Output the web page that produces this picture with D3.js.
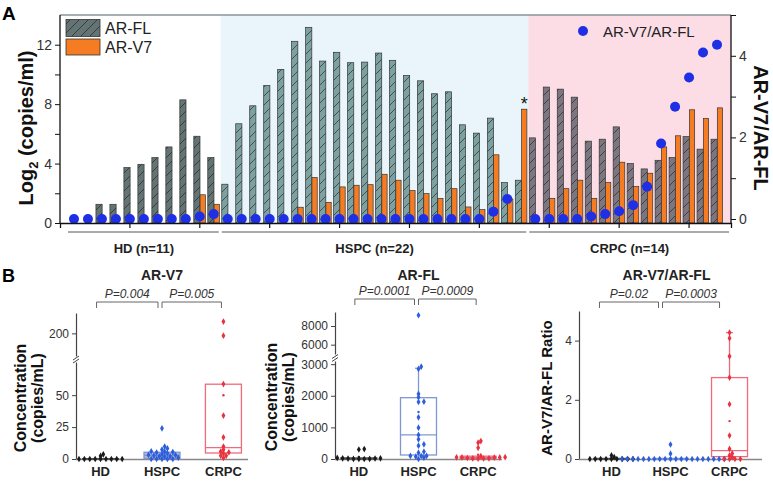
<!DOCTYPE html>
<html>
<head>
<meta charset="utf-8">
<script src="https://cdn.jsdelivr.net/npm/d3@7"></script>
<style>
  body { margin: 0; background: #fff; }
  text { font-family: "Liberation Sans", Arial, sans-serif; }
</style>
</head>
<body>
<div id="chart"></div>
<script>
// ---------- panel A: log2 copies/ml per patient ----------
const groups = ["HD", "HSPC", "CRPC"];
const groupCounts = [11, 22, 14];
const groupLabels = ["HD (n=11)", "HSPC (n=22)", "CRPC (n=14)"];

const arFL = [0, 0, 1.26, 1.26, 3.73, 3.95, 4.4, 5.12, 8.29, 5.84, 4.4,
  2.61, 6.68, 7.89, 9.26, 10.34, 12.23, 13.17, 10.9, 11.49, 10.79, 10.83, 11.44, 10.95, 9.93, 9.57, 8.7, 8.83, 6.61, 6.05, 7.06, 2.72, 2.88,
  5.73, 9.15, 9.01, 8.47, 5.51, 5.64, 6.47, 4.0, 3.64, 4.22, 4.4, 5.82, 4.97, 5.64];
const arV7 = [0, 0, 0, 0, 0, 0, 0, 0, 0, 1.9, 1.26,
  0, 0, 0, 0, 0, 1.06, 3.06, 1.39, 2.43, 2.54, 2.58, 3.28, 2.88, 2.18, 1.98, 1.66, 2.31, 1.08, 0.9, 4.59, 1.62, 7.66,
  0, 1.66, 2.31, 2.88, 1.66, 2.72, 4.09, 2.45, 3.35, 5.12, 5.87, 7.62, 7.04, 7.75];
// V7/FL ratio, null = off scale (marked with *)
const ratioA = [0, 0, 0, 0, 0, 0, 0, 0, 0, 0.06, 0.12,
  0, 0, 0, 0, 0, 0, 0, 0, 0, 0, 0, 0, 0, 0, 0, 0, 0, 0, 0, 0.18, 0.49, null,
  0, 0, 0, 0, 0.06, 0.12, 0.19, 0.34, 0.79, 1.85, 2.75, 3.47, 4.08, 4.27];

const leftTicks = [0, 2, 4, 6, 8, 10, 12];
const rightTicks = [0, 1, 2, 3, 4, 5];

// ---------- panel B: concentrations by group ----------
const v7Conc = [
  [0, 0, 0, 0, 0, 0, 0, 0, 0, 3.7, 2.4],
  [0, 0, 0, 0, 0, 2.1, 8.3, 2.6, 5.4, 5.8, 6, 9.7, 7.4, 4.5, 3.9, 3.2, 5, 2.1, 1.9, 24, 3.1, 1.0],
  [226, 195, 131, 58.7, 34, 17, 9.7, 7.3, 5.8, 5.2, 4.4, 2.6, 2.6, 0.8]
];
const flConc = [
  [0, 0, 2.4, 2.4, 13, 15.5, 21, 35, 313, 300, 21],
  [9150, 4800, 2920, 2848, 2057, 1952, 1813, 1804, 1320, 990, 760, 623, 464, 422, 232, 200, 96, 96, 95, 73, 42, 0],
  [568, 515, 355, 89, 56.5, 53, 50, 50, 45.6, 31, 21, 18.6, 16, 12.5]
];
const ratioB = [
  [0, 0, 0, 0, 0, 0, 0, 0, 0, 0.06, 0.12],
  [0, 0, 0, 0, 0, 0, 0, 0, 0, 0, 0, 0, 0, 0, 0, 0, 0, 0, 0, 0, 0.18, 0.49],
  [4.27, 4.08, 3.47, 2.75, 1.85, 0.79, 0.34, 0.19, 0.12, 0.06, 0, 0, 0, 0]
];
// box: [q1, median, q3]
const v7Box = [[0, 0, 0.3], [0.5, 2.8, 5.3], [4.7, 8.9, 58.6]];
const flBox = [[2, 15, 35], [127, 760, 1940], [16, 50, 89]];
const ratioBox = [[0, 0, 0.02], [0, 0, 0.02], [0.08, 0.28, 2.75]];
const v7Whisker = [null, null, null];
const flWhisker = [null, 2870, null];
const ratioWhisker = [null, null, 4.27];
const v7P = ["P=0.004", "P=0.005"];
const flP = ["P=0.0001", "P=0.0009"];
const ratioP = ["P=0.02", "P=0.0003"];

// ---------- drawing ----------
const svg = d3.select("#chart").append("svg")
  .attr("width", 773).attr("height", 481);

const flColors = ["#647373", "#7da0a1", "#7c7680"];
const v7Color = "#f57c22";
const dotColor = "#1e2fe6";
const ptColors = ["#1a1a1a", "#2d5fdc", "#e8323f"];
const boxColors = ["#555", "#7f97d3", "#f06a7c"];

// hatch patterns for AR-FL bars
const defs = svg.append("defs");
flColors.forEach((c, i) => {
  const p = defs.append("pattern")
    .attr("id", "hatch" + i)
    .attr("patternUnits", "userSpaceOnUse")
    .attr("width", 9).attr("height", 9);
  p.append("rect").attr("width", 9).attr("height", 9).attr("fill", c);
  p.append("path")
    .attr("d", "M0,9 L9,0 M-2,2 L2,-2 M7,11 L11,7")
    .attr("stroke", "#1a1a1a").attr("stroke-width", 0.6);
});

// group of each pair
const groupOf = [];
groupCounts.forEach((n, g) => { for (let k = 0; k < n; k++) groupOf.push(g); });
const starts = groupCounts.map((n, g) => d3.sum(groupCounts.slice(0, g)));

const x = d3.scaleBand().domain(d3.range(arFL.length)).range([60, 731]).paddingOuter(0.5);
const yL = d3.scaleLinear([0, 14], [223, 15]);
const yR = d3.scaleLinear([0, 5], [219, 15]);
const cx = i => x(i) + x.bandwidth() / 2;

const A = svg.append("g");

// shaded backgrounds for HSPC and CRPC
const bgColors = [null, "#e9f5fb", "#fcdde6"];
groups.forEach((g, gi) => {
  if (!bgColors[gi]) return;
  const x0 = x(starts[gi]);
  const x1 = gi < groups.length - 1 ? x(starts[gi + 1]) : 731;
  A.append("rect").attr("x", x0).attr("y", 15).attr("width", x1 - x0).attr("height", 208)
    .attr("fill", bgColors[gi]);
});

// bars
A.selectAll("rect.fl").data(arFL).enter().append("rect")
  .attr("class", "fl")
  .attr("x", (d, i) => cx(i) - 6)
  .attr("width", 6.2)
  .attr("y", d => yL(d))
  .attr("height", d => yL(0) - yL(d))
  .attr("fill", (d, i) => "url(#hatch" + groupOf[i] + ")")
  .attr("stroke", d => d > 0 ? "#333" : "none").attr("stroke-width", 0.7);

A.selectAll("rect.v7").data(arV7).enter().append("rect")
  .attr("class", "v7")
  .attr("x", (d, i) => cx(i) + 0.3)
  .attr("width", 5.3)
  .attr("y", d => yL(d))
  .attr("height", d => yL(0) - yL(d))
  .attr("fill", v7Color)
  .attr("stroke", d => d > 0 ? "#333" : "none").attr("stroke-width", 0.7);

// ratio dots (and * where the ratio is off scale)
ratioA.forEach((d, i) => {
  if (d === null) {
    A.append("text").attr("x", cx(i) + 3).attr("y", yL(arV7[i]) + 1)
      .attr("text-anchor", "middle").attr("font-size", 18).attr("fill", "#111").text("*");
    return;
  }
  A.append("circle").attr("cx", cx(i)).attr("cy", yR(d)).attr("r", 5).attr("fill", dotColor);
});

// frame / axes
A.append("line").attr("x1", 60).attr("x2", 731).attr("y1", 15).attr("y2", 15)
  .attr("stroke", "#8a9599").attr("stroke-width", 1.6);

const xAxis = d3.axisBottom(x).tickValues(d3.range(4, arFL.length, 5)).tickFormat("")
  .tickSizeOuter(0).tickSize(5);
A.append("g").attr("transform", "translate(0,223)").call(xAxis)
  .call(g => g.select(".domain").attr("stroke", "#111").attr("stroke-width", 1.3))
  .call(g => g.selectAll(".tick line").attr("stroke", "#111").attr("stroke-width", 1.2));

const yAxisL = d3.axisLeft(yL).tickValues(leftTicks).tickSize(5).tickSizeOuter(0)
  .tickFormat(d => d % 4 === 0 ? d : "");
A.append("g").attr("transform", "translate(60,0)").call(yAxisL)
  .call(g => g.select(".domain").remove())
  .call(g => g.selectAll(".tick line").attr("stroke", "#111"))
  .call(g => g.selectAll(".tick text").attr("font-size", 14).attr("fill", "#333")
    .attr("font-family", "Liberation Sans, Arial, sans-serif"));
A.append("line").attr("x1", 60).attr("x2", 60).attr("y1", 15).attr("y2", 223)
  .attr("stroke", "#111").attr("stroke-width", 1.3);

const yAxisR = d3.axisRight(yR).tickValues(rightTicks).tickSize(5).tickSizeOuter(0)
  .tickFormat(d => d % 2 === 0 ? d : "");
A.append("g").attr("transform", "translate(731,0)").call(yAxisR)
  .call(g => g.select(".domain").remove())
  .call(g => g.selectAll(".tick line").attr("stroke", "#111"))
  .call(g => g.selectAll(".tick text").attr("font-size", 14).attr("fill", "#333")
    .attr("font-family", "Liberation Sans, Arial, sans-serif"));
A.append("line").attr("x1", 731).attr("x2", 731).attr("y1", 15).attr("y2", 223)
  .attr("stroke", "#111").attr("stroke-width", 1.3);

// group lines and labels under the axis
groups.forEach((g, gi) => {
  const x0 = x(starts[gi]);
  const x1 = gi < groups.length - 1 ? x(starts[gi + 1]) : 731;
  A.append("line").attr("x1", x0 + 1).attr("x2", x1 - 2).attr("y1", 232).attr("y2", 232)
    .attr("stroke", "#8a8f93").attr("stroke-width", 1.5);
  A.append("text").attr("x", (x0 + x1) / 2).attr("y", 253).attr("text-anchor", "middle")
    .attr("font-size", 13).attr("font-weight", "bold").attr("fill", "#222").text(groupLabels[gi]);
});

// axis titles
const lt = A.append("text").attr("transform", "translate(33,128) rotate(-90)")
  .attr("text-anchor", "middle").attr("font-size", 20).attr("font-weight", "bold").attr("fill", "#111");
lt.append("tspan").text("Log");
lt.append("tspan").attr("font-size", 13).attr("dy", 5).text("2");
lt.append("tspan").attr("dy", -5).text(" (copies/ml)");

A.append("text").attr("transform", "translate(754,128) rotate(90)")
  .attr("text-anchor", "middle").attr("font-size", 20).attr("font-weight", "bold").attr("fill", "#111")
  .text("AR-V7/AR-FL");

// legends
A.append("rect").attr("x", 66).attr("y", 19.5).attr("width", 34).attr("height", 17)
  .attr("fill", "url(#hatch0)").attr("stroke", "#333").attr("stroke-width", 0.8);
A.append("text").attr("x", 105).attr("y", 33.5).attr("font-size", 16).attr("fill", "#222").text("AR-FL");
A.append("rect").attr("x", 66).attr("y", 39).attr("width", 34).attr("height", 16)
  .attr("fill", v7Color).attr("stroke", "#333").attr("stroke-width", 0.8);
A.append("text").attr("x", 105).attr("y", 52.5).attr("font-size", 16).attr("fill", "#222").text("AR-V7");
A.append("circle").attr("cx", 583).attr("cy", 31).attr("r", 5).attr("fill", dotColor);
A.append("text").attr("x", 603).attr("y", 36.5).attr("font-size", 15).attr("fill", "#222").text("AR-V7/AR-FL");

svg.append("text").attr("x", 2).attr("y", 20).attr("font-size", 19).attr("font-weight", "bold").text("A");
svg.append("text").attr("x", 2).attr("y", 282).attr("font-size", 18).attr("font-weight", "bold").text("B");

// ---------- panel B subplots ----------
const panelsB = [
  { title: "AR-V7", values: v7Conc, box: v7Box, whisker: v7Whisker, pv: v7P, fillHSPC: true,
    x0: 76, x1: 248, pad: 0.4, shift: 0, by: 302,
    segs: [{ d: [0, 76], r: [459, 362], ticks: [0, 25, 50] }, { d: [150, 245], r: [356, 313], ticks: [200] }],
    ytitle: ["Concentration", "(copies/mL)"], tx: [26, 43], ty: 398, tfs: 16 },
  { title: "AR-FL", values: flConc, box: flBox, whisker: flWhisker, pv: flP, fillHSPC: false,
    x0: 335, x1: 502, pad: 0.4, shift: 0, by: 299,
    segs: [{ d: [0, 3100], r: [459, 361], ticks: [0, 1000, 2000, 3000] }, { d: [5000, 9500], r: [354, 312], ticks: [6000, 8000] }],
    ytitle: ["Concentration", "(copies/mL)"], tx: [277, 294], ty: 397, tfs: 16 },
  { title: "AR-V7/AR-FL", values: ratioB, box: ratioBox, whisker: ratioWhisker, pv: ratioP, fillHSPC: false,
    x0: 579, x1: 762, pad: 0.55, shift: -8, by: 302,
    segs: [{ d: [0, 5], r: [459, 311], ticks: [0, 2, 4] }],
    ytitle: ["AR-V7/AR-FL Ratio"], tx: [552], ty: 388, tfs: 15 }
];

function swarm(vals, cxv, yf, r) {
  const placed = [];
  vals.filter(v => yf(v) !== null).sort((a, b) => a - b).forEach(v => {
    const y = yf(v);
    let k = 0, px;
    while (true) {
      const off = k === 0 ? 0 : (k % 2 ? 1 : -1) * Math.ceil(k / 2) * r * 1.5;
      px = cxv + off;
      if (placed.every(p => Math.hypot(p.x - px, p.y - y) >= r * 1.7)) break;
      k++;
    }
    placed.push({ x: px, y: y });
  });
  return placed;
}

panelsB.forEach(P => {
  const g = svg.append("g");
  const xs = d3.scalePoint().domain(groups).range([P.x0, P.x1]).padding(P.pad);
  const scales = P.segs.map(s => d3.scaleLinear(s.d, s.r));
  const yf = v => {
    for (let k = 0; k < P.segs.length; k++) {
      if (v >= P.segs[k].d[0] && v <= P.segs[k].d[1]) return scales[k](v);
    }
    return null;
  };
  const yClamp = v => {
    const y = yf(v);
    return y !== null ? y : P.segs[0].r[1];
  };

  // y axis segments
  P.segs.forEach((s, k) => {
    const ax = d3.axisLeft(scales[k]).tickValues(s.ticks).tickSize(4).tickSizeOuter(0)
      .tickFormat(d3.format("d"));
    g.append("g").attr("transform", "translate(" + P.x0 + ",0)").call(ax)
      .call(a => a.select(".domain").attr("stroke", "#444").attr("stroke-width", 1.2))
      .call(a => a.selectAll(".tick line").attr("stroke", "#444"))
      .call(a => a.selectAll(".tick text").attr("font-size", 12).attr("fill", "#333")
        .attr("font-family", "Liberation Sans, Arial, sans-serif"));
  });
  // break marks
  if (P.segs.length > 1) {
    const mid = (P.segs[0].r[1] + P.segs[1].r[0]) / 2;
    g.append("path")
      .attr("d", `M${P.x0 - 3},${mid + 1} L${P.x0 + 3},${mid - 3} M${P.x0 - 3},${mid + 4} L${P.x0 + 3},${mid}`)
      .attr("stroke", "#444").attr("stroke-width", 1).attr("fill", "none");
  }
  // x axis
  g.append("line").attr("x1", P.x0).attr("x2", P.x1).attr("y1", 459.5).attr("y2", 459.5)
    .attr("stroke", "#888").attr("stroke-width", 1.3);
  groups.forEach(gr => {
    g.append("text").attr("x", xs(gr)).attr("y", 476).attr("text-anchor", "middle")
      .attr("font-size", 13).attr("font-weight", "bold").attr("fill", "#222").text(gr);
  });

  // boxes
  groups.forEach((gr, gi) => {
    const c = xs(gr);
    const [q1, med, q3] = P.box[gi];
    const w = 36;
    if (P.whisker[gi] !== null) {
      g.append("line").attr("x1", c).attr("x2", c).attr("y1", yClamp(q3)).attr("y2", yClamp(P.whisker[gi]))
        .attr("stroke", boxColors[gi]).attr("stroke-width", 1.3);
      g.append("line").attr("x1", c - 3.5).attr("x2", c + 3.5).attr("y1", yClamp(P.whisker[gi])).attr("y2", yClamp(P.whisker[gi]))
        .attr("stroke", boxColors[gi]).attr("stroke-width", 1.3);
    }
    g.append("rect").attr("x", c - w / 2).attr("width", w)
      .attr("y", yClamp(q3)).attr("height", Math.max(0.5, yClamp(q1) - yClamp(q3)))
      .attr("fill", gi === 1 && P.fillHSPC ? "#b3bbd3" : "none")
      .attr("stroke", boxColors[gi]).attr("stroke-width", 1.3);
    g.append("line").attr("x1", c - w / 2).attr("x2", c + w / 2).attr("y1", yClamp(med)).attr("y2", yClamp(med))
      .attr("stroke", boxColors[gi]).attr("stroke-width", 1.2);
  });

  // points
  groups.forEach((gr, gi) => {
    const pts = swarm(P.values[gi], xs(gr), yf, 1.8);
    g.selectAll(null).data(pts).enter().append("path")
      .attr("transform", d => `translate(${d.x},${d.y})`)
      .attr("d", d3.symbol(d3.symbolDiamond, 13))
      .attr("fill", ptColors[gi]);
    const m = d3.mean(P.values[gi]);
    if (yf(m) !== null) {
      g.append("circle").attr("cx", xs(gr)).attr("cy", yf(m)).attr("r", 1.2).attr("fill", ptColors[gi]);
    }
  });

  // title, brackets and p values
  g.append("text").attr("x", xs("HSPC") + P.shift / 2).attr("y", 280).attr("text-anchor", "middle")
    .attr("font-size", 14).attr("font-weight", "bold").attr("fill", "#222").text(P.title);
  const br = [[xs("HD") - 4 + P.shift, xs("HSPC") - 4 + P.shift], [xs("HSPC") + P.shift, xs("CRPC") - 2 + P.shift]];
  br.forEach((b, k) => {
    g.append("path").attr("d", `M${b[0]},${P.by + 6} V${P.by} H${b[1]} V${P.by + 6}`)
      .attr("fill", "none").attr("stroke", "#666").attr("stroke-width", 1);
    g.append("text").attr("x", (b[0] + b[1]) / 2).attr("y", P.by - 4).attr("text-anchor", "middle")
      .attr("font-size", 12).attr("font-style", "italic").attr("fill", "#333").text(P.pv[k]);
  });

  // y title
  P.ytitle.forEach((t, k) => {
    g.append("text").attr("transform", `translate(${P.tx[k]},${P.ty}) rotate(-90)`)
      .attr("text-anchor", "middle").attr("font-size", P.tfs).attr("font-weight", "bold")
      .attr("fill", "#111").text(t);
  });
});
</script>
</body>
</html>
